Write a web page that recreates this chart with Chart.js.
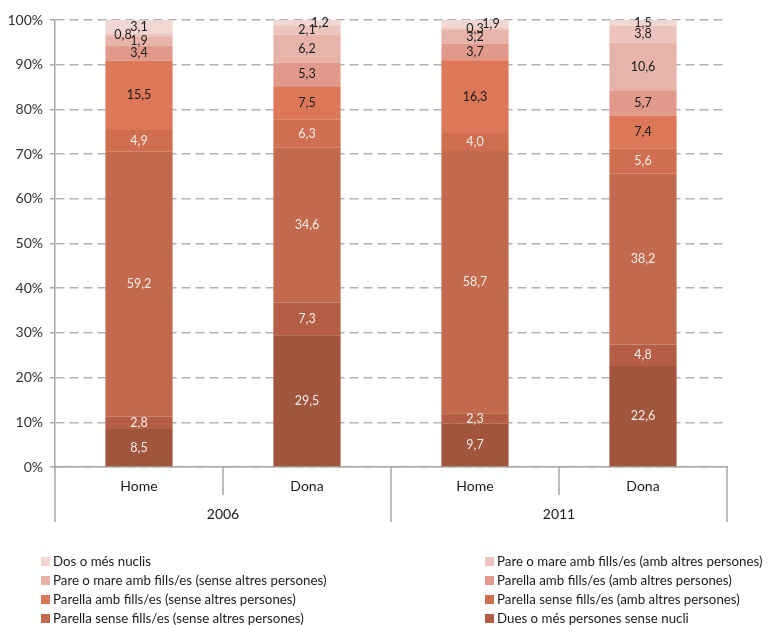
<!DOCTYPE html>
<html>
<head>
<meta charset="utf-8">
<script src="https://cdn.jsdelivr.net/npm/chart.js@4.4.1/dist/chart.umd.min.js"></script>
<style>
  html, body { margin: 0; padding: 0; background: #fff; }
  #wrap { width: 768px; height: 625px; }
</style>
</head>
<body>
<div id="wrap"><canvas id="chart" width="768" height="625"></canvas></div>
<script>
// categories (bars) and year groups
const categories = ["Home", "Dona", "Home", "Dona"];
const years = ["2006", "2011"];

// series, bottom of the stack first
const unipersonal      = [8.5, 29.5, 9.7, 22.6];   // not visible in the legend (cut off)
const duesSenseNucli   = [2.8, 7.3, 2.3, 4.8];
const parSenseSense    = [59.2, 34.6, 58.7, 38.2];
const parSenseAmb      = [4.9, 6.3, 4.0, 5.6];
const parAmbSense      = [15.5, 7.5, 16.3, 7.4];
const parAmbAmb        = [3.4, 5.3, 3.7, 5.7];
const pareSense        = [1.9, 6.2, 3.2, 10.6];
const pareAmb          = [0.8, 2.1, 0.3, 3.8];
const dosNuclis        = [3.1, 1.2, 1.9, 1.5];

const yTicks = [0, 10, 20, 30, 40, 50, 60, 70, 80, 90, 100];

const FONT = "Lato, 'Open Sans', sans-serif";

const series = [
  { label: "Llar unipersonal", data: unipersonal, color: "#a0553c", text: "#f3ece9", legend: false },
  { label: "Dues o més persones sense nucli", data: duesSenseNucli, color: "#b45f45", text: "#f3ece9", legend: true },
  { label: "Parella sense fills/es (sense altres persones)", data: parSenseSense, color: "#c3694e", text: "#f3ece9", legend: true },
  { label: "Parella sense fills/es (amb altres persones)", data: parSenseAmb, color: "#cf6e51", text: "#f3ece9", legend: true },
  { label: "Parella amb fills/es (sense altres persones)", data: parAmbSense, color: "#dc7758", text: "#1a1a1a", legend: true },
  { label: "Parella amb fills/es (amb altres persones)", data: parAmbAmb, color: "#e0998a", text: "#1a1a1a", legend: true },
  { label: "Pare o mare amb fills/es (sense altres persones)", data: pareSense, color: "#e8b3a9", text: "#1a1a1a", legend: true },
  { label: "Pare o mare amb fills/es (amb altres persones)", data: pareAmb, color: "#edc4bd", text: "#1a1a1a", legend: true },
  { label: "Dos o més nuclis", data: dosNuclis, color: "#f2d6d1", text: "#1a1a1a", legend: true }
];

// small label nudges for crowded segments: "datasetIndex-barIndex": [dx, dy]
const labelNudge = { "7-0": [-16, 0], "8-1": [13, 0], "8-2": [16, 0] };

const datasets = series.map(s => ({
  label: s.label,
  data: s.data,
  backgroundColor: s.color,
  borderWidth: 0,
  barPercentage: 0.4,
  categoryPercentage: 1
}));

const extras = {
  id: "extras",
  afterDatasetsDraw(chart) {
    const ctx = chart.ctx;
    const area = chart.chartArea;

    // value labels
    ctx.save();
    ctx.font = "12.5px " + FONT;
    ctx.textAlign = "center";
    ctx.textBaseline = "middle";
    series.forEach((s, i) => {
      chart.getDatasetMeta(i).data.forEach((bar, j) => {
        const n = labelNudge[i + "-" + j] || [0, 0];
        const top = Math.max(bar.y, area.top);
        ctx.fillStyle = s.text;
        ctx.fillText(s.data[j].toFixed(1).replace(".", ","), bar.x + n[0], (top + bar.base) / 2 + n[1]);
      });
    });
    ctx.restore();
  },
  afterDraw(chart) {
    const ctx = chart.ctx;
    const x = chart.scales.x;
    const area = chart.chartArea;
    const step = x.getPixelForValue(1) - x.getPixelForValue(0);
    const bottom = area.bottom;

    ctx.save();
    ctx.strokeStyle = "#a6a6a6";
    ctx.lineWidth = 1.5;
    // separators
    for (let k = 0; k <= categories.length; k++) {
      const px = Math.round(x.getPixelForValue(0) - step / 2 + k * step);
      const len = k % 2 === 0 ? 55 : 28;
      ctx.beginPath();
      ctx.moveTo(px, bottom);
      ctx.lineTo(px, bottom + len);
      ctx.stroke();
    }
    ctx.fillStyle = "#1a1a1a";
    ctx.font = "14px " + FONT;
    ctx.textAlign = "center";
    ctx.textBaseline = "middle";
    categories.forEach((c, j) => ctx.fillText(c, x.getPixelForValue(j), bottom + 19));
    years.forEach((y, g) => {
      const cx = (x.getPixelForValue(g * 2) + x.getPixelForValue(g * 2 + 1)) / 2;
      ctx.fillText(y, cx, bottom + 47);
    });

    // legend, top series first, two columns
    const items = series.filter(s => s.legend).reverse();
    ctx.font = "13.3px " + FONT;
    ctx.textAlign = "left";
    items.forEach((s, i) => {
      const col = i % 2, row = Math.floor(i / 2);
      const bx = col === 0 ? 41 : 485;
      const cy = 562 + row * 19;
      ctx.fillStyle = s.color;
      ctx.fillRect(bx, cy - 5, 9, 9);
      ctx.fillStyle = "#1a1a1a";
      ctx.fillText(s.label, bx + 12, cy);
    });
    ctx.restore();
  }
};

new Chart(document.getElementById("chart"), {
  type: "bar",
  data: { labels: categories, datasets },
  options: {
    responsive: false,
    animation: false,
    layout: { padding: { top: 20, right: 41, left: 0, bottom: 0 } },
    plugins: { legend: { display: false }, tooltip: { enabled: false } },
    scales: {
      x: {
        stacked: true,
        grid: { display: false },
        ticks: { display: false },
        border: { display: true, color: "#a6a6a6", width: 1.5 },
        afterFit(s) { s.height = 158; }
      },
      y: {
        stacked: true,
        min: 0,
        max: 100,
        afterBuildTicks(s) { s.ticks = yTicks.map(v => ({ value: v })); },
        ticks: {
          callback: v => v + "%",
          color: "#333",
          font: { family: FONT, size: 14 },
          padding: 7
        },
        grid: { color: "#b3b3b3", lineWidth: 1.5, tickColor: "#a6a6a6", tickLength: 5, tickBorderDash: [] },
        border: { display: true, color: "#a6a6a6", width: 1.5, dash: [9, 5] },
        afterFit(s) { s.width = 55; }
      }
    }
  },
  plugins: [extras]
});
</script>
</body>
</html>
